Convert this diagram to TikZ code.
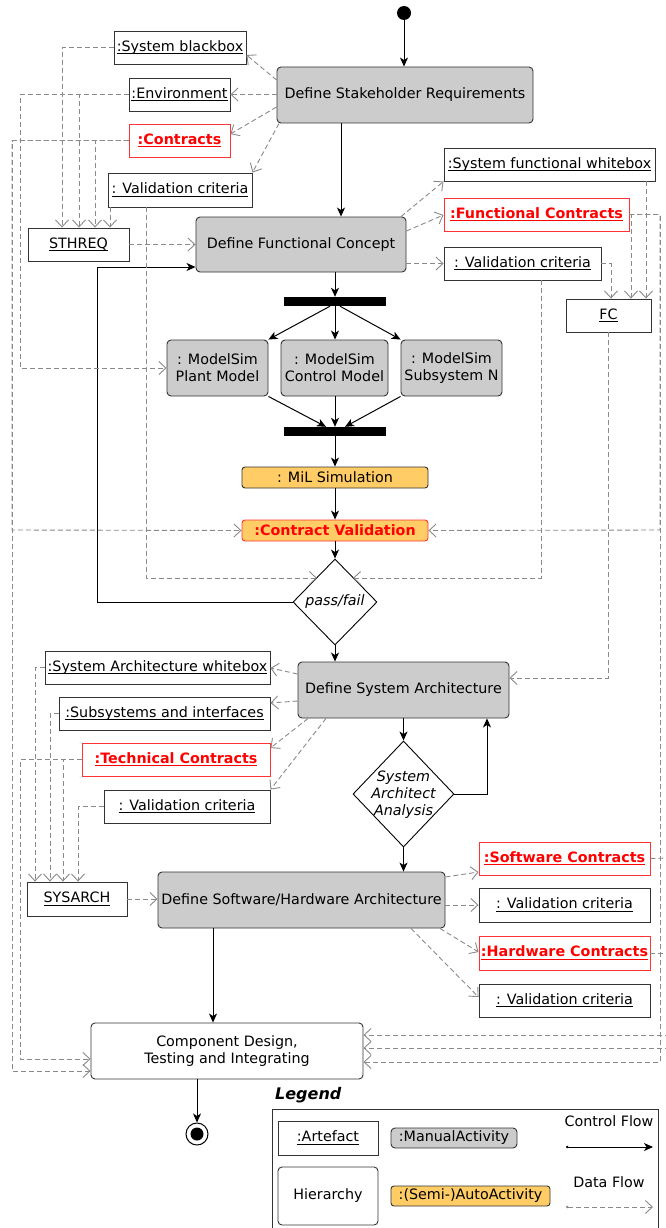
\documentclass[tikz,border=0pt]{standalone}
\usepackage{fontspec}
\setmainfont{DejaVu Sans}
\usetikzlibrary{shapes.geometric,arrows.meta,calc}
\definecolor{mgray}{HTML}{CCCCCC}
\definecolor{aorange}{HTML}{FFCC66}
\definecolor{dgray}{HTML}{8A8A8A}
\definecolor{cred}{HTML}{FF0000}
\definecolor{bred}{HTML}{FF3333}
\definecolor{bcol}{HTML}{333333}
\newcommand{\ulx}[1]{\setbox0\hbox{#1}\leavevmode\rlap{\copy0}\rule[-2.9pt]{\wd0}{0.9pt}}
\newcommand{\fs}{\fontsize{14.3}{17}\selectfont}
\tikzset{
  base/.style={inner sep=0pt, font=\fs, text=black},
  art/.style={base, draw=bcol, line width=0.9pt, fill=white, minimum height=33pt},
  contract/.style={base, draw=bred, line width=0.9pt, fill=white, text=cred, font=\fs\bfseries, minimum height=33pt},
  manual/.style={base, draw=bcol, fill=mgray, rounded corners=4pt, line width=0.9pt, align=center},
  hier/.style={base, draw=bcol, fill=white, rounded corners=4pt, line width=0.9pt, align=center},
  auto/.style={base, draw=bcol, fill=aorange, rounded corners=3pt, line width=0.9pt},
  autored/.style={base, draw=bred, fill=aorange, rounded corners=3pt, line width=0.9pt, text=cred, font=\fs\bfseries},
  bar/.style={fill=black, inner sep=0pt, minimum width=102pt, minimum height=9pt},
  decision/.style={diamond, draw=black, line width=0.9pt, fill=white, inner sep=0pt, font=\fs\itshape},
  ctrl/.style={-{Stealth[length=9pt,width=8pt,inset=2.5pt]}, line width=1pt, black},
  ctrllegend/.style={{Circle[length=2.5pt]}-{Stealth[length=9pt,width=8pt,inset=2.5pt]}, line width=1pt, black},
  data/.style={-{Straight Barb[length=7pt,width=13pt]}, dgray, line width=0.9pt, dash pattern=on 5pt off 3pt},
  datalegend/.style={{Circle[length=2.5pt]}-{Straight Barb[length=7pt,width=13pt]}, dgray, line width=0.9pt, dash pattern=on 5pt off 3pt},
  plain/.style={base}
}
\begin{document}
\begin{tikzpicture}[x=1pt,y=-1pt]
\useasboundingbox (0,0) rectangle (666,1228);
\clip (0,0) rectangle (666,1228);
\fill[white] (0,0) rectangle (666,1228);

% ---------- nodes ----------
\node[circle, fill=black, inner sep=0pt, minimum size=14pt] (start) at (404,13) {};
\node[manual, minimum width=256pt, minimum height=56pt] (dsr) at (405,95) {Define Stakeholder Requirements};

\node[art, minimum width=132pt] (sbb) at (180,47.5) {\ulx{:System blackbox}};
\node[art, minimum width=101pt] (env) at (179.5,94.5) {\ulx{:Environment}};
\node[contract, minimum width=101pt] (con) at (179.5,140.5) {\ulx{:Contracts}};
\node[art, minimum width=144pt, minimum height=34pt] (vc1) at (180,190) {\ulx{: Validation criteria}};
\node[art, minimum width=101pt] (sthreq) at (78.5,244.5) {\ulx{STHREQ}};

\node[manual, minimum width=210pt, minimum height=55pt] (dfc) at (301,244.5) {Define Functional Concept};
\node[art, minimum width=211pt] (sfw) at (549.5,164.5) {\ulx{:System functional whitebox}};
\node[contract, minimum width=185pt] (fcon) at (536.5,214.5) {\ulx{:Functional Contracts}};
\node[art, minimum width=157pt] (vc2) at (522.5,263.5) {\ulx{: Validation criteria}};
\node[art, minimum width=85pt] (fc) at (608.5,315.5) {\ulx{FC}};

\node[bar] (bar1) at (335,301.5) {};
\node[manual, minimum width=101pt, minimum height=56pt] (pm) at (217.5,368) {: ModelSim\\Plant Model};
\node[manual, minimum width=107pt, minimum height=56pt] (cm) at (334.5,368) {: ModelSim\\Control Model};
\node[manual, minimum width=101pt, minimum height=56pt] (sn) at (451.5,368) {: ModelSim\\Subsystem N};
\node[bar] (bar2) at (335,431.5) {};
\node[auto, minimum width=186pt, minimum height=21pt] (mil) at (335,477.5) {: MiL Simulation};
\node[autored, minimum width=186pt, minimum height=21pt] (cv) at (335,530.5) {:Contract Validation};
\node[decision, minimum width=84pt, minimum height=86pt] (pf) at (335,602) {pass/fail};

\node[manual, minimum width=211pt, minimum height=56pt] (dsa) at (403.5,690) {Define System Architecture};
\node[art, minimum width=225pt] (saw) at (157.5,667.5) {\ulx{:System Architecture whitebox}};
\node[art, minimum width=211pt] (ssi) at (164.5,713.5) {\ulx{:Subsystems and interfaces}};
\node[contract, minimum width=188pt] (tcon) at (176,759.5) {\ulx{:Technical Contracts}};
\node[art, minimum width=166pt] (vc3) at (187,806.5) {\ulx{: Validation criteria}};
\node[decision, minimum width=101pt, minimum height=106pt] (saa) at (403.5,794) {};
\node[base, font=\fs\itshape, align=center] (saalbl) at (403.5,795) {System\\Architect\\Analysis};

\node[art, minimum width=100pt, minimum height=34pt] (sysarch) at (77,899) {\ulx{SYSARCH}};
\node[manual, minimum width=287pt, minimum height=56pt] (dsha) at (301.5,900) {Define Software/Hardware Architecture};
\node[contract, minimum width=171pt] (scon) at (564.5,858.5) {\ulx{:Software Contracts}};
\node[art, minimum width=171pt, minimum height=34pt] (vc4) at (564.5,905) {\ulx{: Validation criteria}};
\node[contract, minimum width=171pt, minimum height=34pt] (hcon) at (564.5,953) {\ulx{:Hardware Contracts}};
\node[art, minimum width=171pt] (vc5) at (564.5,1000.5) {\ulx{: Validation criteria}};

\node[hier, minimum width=272pt, minimum height=56pt] (cd) at (227,1051) {Component Design,\\Testing and Integrating};
\node[circle, draw=black, line width=1pt, fill=white, inner sep=0pt, minimum size=22pt] (end) at (197,1134) {};
\node[circle, fill=black, inner sep=0pt, minimum size=13pt] (endin) at (197,1134) {};

% free ends at the right border
\coordinate (rsc) at (670,858);
\coordinate (rhc) at (670,953);
\coordinate (rin1) at (670,1035);
\coordinate (rin2) at (670,1048);

% ---------- control flow ----------
\draw[ctrl] (start) -- (start |- dsr.north);
\draw[ctrl] (dsr.south -| 341,0) -- (dfc.north -| 341,0);
\draw[ctrl] (dfc.south -| bar1) -- (bar1.north);
\draw[ctrl] (bar1.south -| 330,0) -- (pm.north east);
\draw[ctrl] (bar1.south) -- (bar1.south |- cm.north);
\draw[ctrl] (bar1.south -| 340,0) -- (sn.north west);
\draw[ctrl] (pm.south east) -- (bar2.north -| 326,0);
\draw[ctrl] (cm.south -| bar2) -- (bar2.north);
\draw[ctrl] (sn.south west) -- (bar2.north -| 345,0);
\draw[ctrl] (bar2.south) -- (mil.north);
\draw[ctrl] (mil.south) -- (cv.north);
\draw[ctrl] (cv.south) -- (pf.north);
\draw[ctrl] (pf.west) -| (97,267) -- (dfc.west |- 0,267);
\draw[ctrl] (pf.south) -- (pf.south |- dsa.north);
\draw[ctrl] (dsa.south -| saa) -- (saa.north);
\draw[ctrl] (saa.east) -| (dsa.south -| 487,0);
\draw[ctrl] (saa.south) -- (saa.south |- dsha.north);
\draw[ctrl] (dsha.south -| 213,0) -- (cd.north -| 213,0);
\draw[ctrl] (cd.south -| end) -- (end.north);

% ---------- data flow ----------
\draw[data] (dsr.west |- 0,80) -- (sbb.east |- 0,55);
\draw[data] (dsr.west |- env.east) -- (env.east);
\draw[data] (dsr.west |- 0,107) -- (con.east |- 0,134);
\draw[data] (dsr.south -| 279,0) -- (vc1.north east);

\draw[data] (sbb.west) -| (sthreq.north -| 62,0);
\draw[data] (env.west) -| (sthreq.north -| 79,0);
\draw[data] (env.west) -| (20,368) -- (pm.west);
\draw[data] (con.west) -| (sthreq.north -| 95,0);
\draw[data] (con.west) -| (12,530) -- (cv.west);
\draw[data] (con.west) -| (12,1071) -- (cd.west |- 0,1071);
\draw[data] (vc1.south -| 110,0) -- (sthreq.north -| 110,0);
\draw[data] (vc1.south -| 146,0) |- (317,578);
\draw[data] (sthreq.east) -- (dfc.west |- sthreq.east);

\draw[data] (dfc.north -| 401,0) -- (sfw.south west);
\draw[data] (dfc.east |- 0,231) -- (fcon.west |- 0,215);
\draw[data] (dfc.east |- vc2.west) -- (vc2.west);
\draw[data] (vc2.east) -| (fc.north -| 611,0);
\draw[data] (fcon.east) -| (fc.north -| 631,0);
\draw[data] (sfw.south -| 646,0) -- (fc.north -| 646,0);
\draw[data] (fcon.east) -| (660,530) -- (cv.east);
\draw[data] (fcon.east) -| (660,1062) -- (cd.east |- 0,1062);
\draw[data] (vc2.south -| 541,0) |- (353,578);
\draw[data] (fc.south) |- (dsa.east |- 0,678);

\draw[data] (dsa.west |- 0,674) -- (saw.east |- 0,668);
\draw[data] (dsa.west |- 0,701) -- (ssi.east |- 0,703);
\draw[data] (dsa.south -| 308,0) -- (tcon.east |- 0,748);
\draw[data] (dsa.south -| 326,0) -- (vc3.north east);
\draw[data] (saw.west) -| (sysarch.north -| 35,0);
\draw[data] (ssi.west) -| (sysarch.north -| 50,0);
\draw[data] (tcon.west) -| (sysarch.north -| 63,0);
\draw[data] (tcon.west) -| (20,1059) -- (cd.west |- 0,1059);
\draw[data] (vc3.west) -| (sysarch.north -| 78,0);
\draw[data] (sysarch.east) -- (dsha.west |- sysarch.east);

\draw[data] (dsha.east |- 0,877) -- (scon.west |- 0,872);
\draw[data] (dsha.east |- vc4.west) -- (vc4.west);
\draw[data] (dsha.south -| 440,0) -- (hcon.west |- 0,952);
\draw[data] (dsha.south -| 411,0) -- (vc5.west |- 0,997);
\draw[data, -] (scon.east) -- (rsc);
\draw[data, -] (hcon.east) -- (rhc);
\draw[data] (rin1) -- (cd.east |- rin1);
\draw[data] (rin2) -- (cd.east |- rin2);

% ---------- legend ----------
\node[base, font=\fontsize{16}{19}\selectfont\bfseries\itshape, anchor=west] (legtitle) at (275,1095) {Legend};
\draw[bcol, line width=0.9pt] (272,1240) -- (272,1109) -- (658,1109) -- (658,1240);
\node[art, minimum width=100pt, minimum height=34pt] (lart) at (328,1138) {\ulx{:Artefact}};
\node[hier, minimum width=100pt, minimum height=58pt] (lhier) at (328,1196) {Hierarchy};
\node[manual, minimum width=126pt, minimum height=20pt] (lman) at (454,1138) {:ManualActivity};
\node[auto, minimum width=159pt, minimum height=20pt] (lauto) at (470.5,1196) {:(Semi-)AutoActivity};
\node[plain] (lcf) at (609,1121) {Control Flow};
\node[plain] (ldf) at (609,1182) {Data Flow};
\coordinate (lc1) at (566,1147);
\coordinate (lc2) at (653,1147);
\coordinate (ld1) at (566,1207);
\coordinate (ld2) at (653,1207);
\draw[ctrllegend] (lc1) -- (lc2);
\draw[datalegend] (ld1) -- (ld2);
\end{tikzpicture}
\end{document}
